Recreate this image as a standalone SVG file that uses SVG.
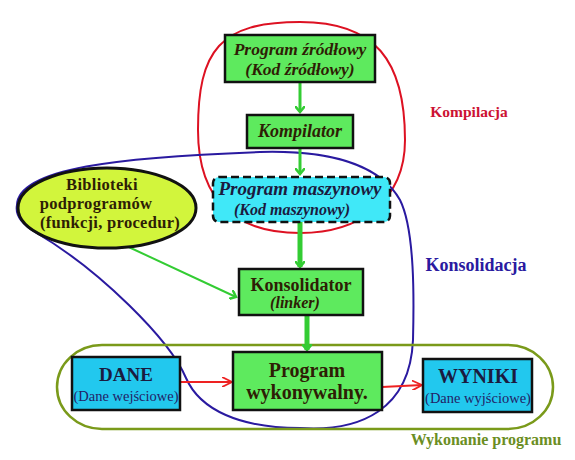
<svg xmlns="http://www.w3.org/2000/svg" width="575" height="460" viewBox="0 0 575 460">
<defs>
<marker id="ga" markerWidth="10" markerHeight="10" refX="6" refY="5" orient="auto" markerUnits="userSpaceOnUse" viewBox="0 0 10 10">
<path d="M0,0 L6,5 L0,10" fill="none" stroke="#33CC33" stroke-width="2.5"/>
</marker>
<marker id="ra" markerWidth="12" markerHeight="10" refX="10" refY="5" orient="auto" markerUnits="userSpaceOnUse" viewBox="0 0 12 10">
<path d="M0,0 L10,5 L0,10" fill="none" stroke="#EE2222" stroke-width="1.8"/>
</marker>
</defs>
<style>
.gbox{fill:#5EEA5E;stroke:#111;stroke-width:2.5}
.bbox{fill:#22C8EE;stroke:#111;stroke-width:2.5}
text{font-family:'Liberation Serif','Times New Roman','DejaVu Serif',serif}
.t{font-weight:bold;text-anchor:middle}
.tg{fill:#2E1E05}
.tb{fill:#1B1B3F}
.it{font-style:italic}
.gl{stroke:#33CC33;fill:none}
.rl{stroke:#EE2222;fill:none;stroke-width:1.8}
</style>
<g id="regions" fill="none">
<path id="kompilacja-region" d="M300,22 C375,22 405,60 405,140 C405,200 360,233 300,233 C240,233 198,205 198,130 C198,50 220,22 300,22 Z" stroke="#DD1122" stroke-width="2"/>
<path id="konsolidacja-region" d="M17,205 C18,168 120,157 260,152 C330,150 380,165 400,200 C415,230 414,300 413,340 C410,410 360,432 300,428 C240,428 200,410 186,378 C170,340 100,270 35,232 C22,224 15,215 17,205 Z" stroke="#2A1AA0" stroke-width="2"/>
<rect id="wykonanie-region" x="57" y="345" width="496" height="84" rx="45" ry="42" stroke="#7A9A1A" stroke-width="2.5"/>
</g>
<g id="connectors">
<line class="gl" x1="300" y1="82" x2="300" y2="112" stroke-width="3" marker-end="url(#ga)"/>
<line class="gl" x1="300" y1="148" x2="300" y2="174" stroke-width="3" marker-end="url(#ga)"/>
<line class="gl" x1="300" y1="222" x2="300" y2="267" stroke-width="5" marker-end="url(#ga)"/>
<line class="gl" x1="307" y1="315" x2="307" y2="350" stroke-width="5" marker-end="url(#ga)"/>
<line class="gl" x1="120" y1="243" x2="236" y2="297" stroke-width="2" marker-end="url(#ga)"/>
<line class="rl" x1="180" y1="382" x2="232" y2="382" marker-end="url(#ra)"/>
<line class="rl" x1="382" y1="387" x2="422" y2="385" marker-end="url(#ra)"/>
</g>
<g id="program-zrodlowy">
<rect class="gbox" x="225" y="35" width="150" height="47"/>
<text class="t tg it" x="300" y="55" font-size="17.5">Program źródłowy</text>
<text class="t tg it" x="300" y="75" font-size="17.5">(Kod źródłowy)</text>
</g>
<g id="kompilator">
<rect class="gbox" x="247" y="115" width="106" height="33"/>
<text class="t tg it" x="300" y="137" font-size="18">Kompilator</text>
</g>
<g id="program-maszynowy">
<rect x="213" y="177" width="177" height="45" rx="6" fill="#40E8F8" stroke="#111" stroke-width="2.5" stroke-dasharray="8,4"/>
<text class="t tb it" x="300" y="195" font-size="19">Program maszynowy</text>
<text class="t tb it" x="292" y="215" font-size="16">(Kod maszynowy)</text>
</g>
<g id="biblioteki">
<ellipse cx="107" cy="208" rx="89" ry="40" fill="#D2F53C" stroke="#111" stroke-width="3"/>
<text class="t tg" x="102" y="190" font-size="16.5" letter-spacing="0.3">Biblioteki</text>
<text class="t tg" x="96" y="209" font-size="16.5" letter-spacing="0.3">podprogramów</text>
<text class="t tg" x="110" y="228" font-size="16.5" letter-spacing="0.3">(funkcji, procedur)</text>
</g>
<g id="konsolidator">
<rect class="gbox" x="239" y="269" width="124" height="46"/>
<text class="t tg" x="301" y="291" font-size="18">Konsolidator</text>
<text class="t tg it" x="295" y="308" font-size="16">(linker)</text>
</g>
<g id="program-wykonywalny">
<rect class="gbox" x="233" y="352" width="149" height="58"/>
<text class="t tg" x="307" y="377" font-size="20">Program</text>
<text class="t tg" x="307" y="399" font-size="20">wykonywalny.</text>
</g>
<g id="dane">
<rect class="bbox" x="72" y="357" width="108" height="53"/>
<text class="t tb" x="126" y="381" font-size="19">DANE</text>
<text x="126" y="401" font-size="14.5" text-anchor="middle" fill="#222266">(Dane wejściowe)</text>
</g>
<g id="wyniki">
<rect class="bbox" x="423" y="359" width="109" height="53"/>
<text class="t tb" x="478" y="383" font-size="20">WYNIKI</text>
<text x="478" y="403" font-size="14.5" text-anchor="middle" fill="#222266">(Dane wyjściowe)</text>
</g>
<g id="labels">
<text class="t" x="469" y="117" font-size="15.5" fill="#CC1133">Kompilacja</text>
<text class="t" x="476" y="271" font-size="18" fill="#2A1AA0">Konsolidacja</text>
<text class="t" x="486" y="445" font-size="16" fill="#6B8E23">Wykonanie programu</text>
</g>
</svg>
